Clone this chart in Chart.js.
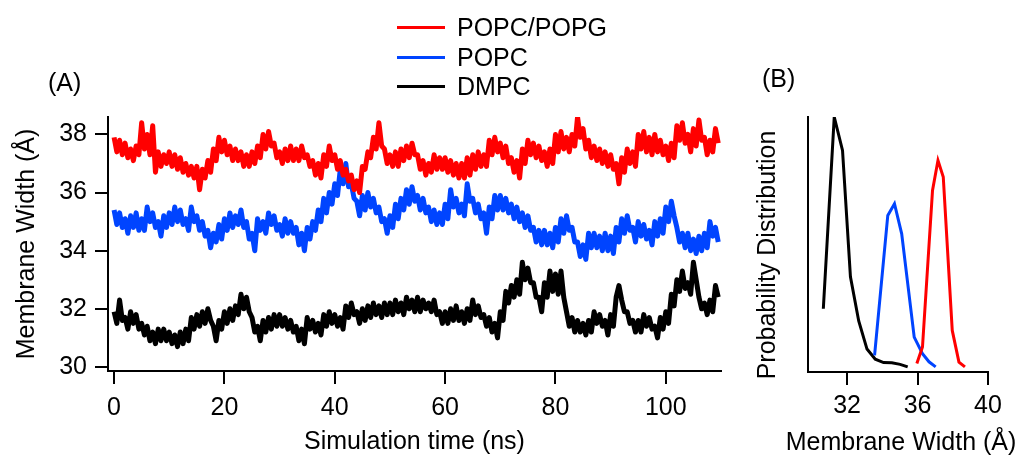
<!DOCTYPE html>
<html>
<head>
<meta charset="utf-8">
<script src="https://cdn.jsdelivr.net/npm/chart.js@4.4.1/dist/chart.umd.min.js"></script>
<style>
  html, body { margin:0; padding:0; background:#fff; }
  body { width:1024px; height:457px; position:relative; overflow:hidden; font-family:"Liberation Sans", Arial, sans-serif; }
  canvas { position:absolute; top:0; }
  .lbl { position:absolute; font-size:25px; color:#000; line-height:30px; white-space:nowrap; }
  .leg { position:absolute; left:397px; width:48px; height:0; border-top:3px solid; }
  .rot { position:absolute; font-size:25px; line-height:30px; white-space:nowrap; transform:translate(-50%,-50%) rotate(-90deg); }
  .ctr { position:absolute; font-size:25px; line-height:30px; white-space:nowrap; transform:translate(-50%,-50%); }
</style>
</head>
<body>
<canvas id="chartA" width="740" height="457" style="left:0"></canvas>
<canvas id="chartB" width="284" height="457" style="left:740px"></canvas>

<div class="lbl" style="left:48px;top:67px">(A)</div>
<div class="lbl" style="left:762px;top:63px">(B)</div>

<div class="leg" style="top:26px;border-color:#ff0000"></div>
<div class="lbl" style="left:457px;top:12px">POPC/POPG</div>
<div class="leg" style="top:56px;border-color:#0044ff"></div>
<div class="lbl" style="left:457px;top:42px">POPC</div>
<div class="leg" style="top:85px;border-color:#000000"></div>
<div class="lbl" style="left:457px;top:71px">DMPC</div>

<div class="rot" style="left:766px;top:255px">Probability Distribution</div>
<div class="ctr" style="left:901px;top:441px">Membrane Width (Å)</div>

<script>
// ---------- Panel A: membrane width vs time (0.5 ns sampling) ----------
const timeStepNs = 0.5;
const seriesNames = ["POPC/POPG", "POPC", "DMPC"];
const seriesColors = ["#ff0000", "#0044ff", "#000000"];

const widthPOPCPOPG = [
37.9,37.4,37.8,37.3,37.7,37.2,37.5,37.1,37.6,37.3,
38.4,37.5,38.0,37.3,38.3,36.7,37.4,36.9,37.3,37.0,
37.4,36.9,37.3,36.8,37.2,36.7,37.0,36.6,36.9,36.5,
36.9,36.1,36.8,36.5,37.1,36.7,37.5,37.1,37.9,37.4,
37.8,37.3,37.6,37.1,37.5,37.1,37.4,36.9,37.3,36.9,
37.4,37.0,37.6,37.2,38.0,37.5,38.1,37.6,37.7,37.2,
37.4,37.0,37.5,37.1,37.6,37.1,37.5,37.1,37.6,37.2,
37.3,36.9,37.1,36.6,37.0,36.5,37.3,36.9,37.6,37.1,
37.3,36.8,37.1,36.6,36.8,36.4,36.6,36.1,36.4,36.0,
36.9,36.8,37.4,37.2,37.9,37.5,38.4,37.6,37.5,37.0,
37.3,36.9,37.4,36.9,37.5,37.1,37.6,37.2,37.7,37.3,
37.3,36.8,37.1,36.6,37.0,36.7,37.3,36.8,37.2,36.8,
37.2,36.7,37.1,36.6,37.0,36.5,37.0,36.5,37.2,36.6,
37.3,36.8,37.4,36.9,37.3,36.9,37.8,37.3,37.9,37.4,
37.7,37.2,37.6,37.0,37.2,36.7,37.1,36.5,37.5,37.0,
37.8,37.3,37.7,37.2,37.6,37.1,37.4,36.9,37.5,37.0,
38.0,37.4,38.1,37.5,37.9,37.4,38.0,37.6,38.6,37.9,
38.2,37.5,37.8,37.2,37.6,37.1,37.5,37.0,37.4,36.9,
37.3,36.8,37.0,36.3,37.2,36.7,37.5,37.0,37.4,36.9,
38.0,37.5,38.1,37.4,37.9,37.3,38.0,37.4,37.8,37.3,
37.6,37.1,37.7,37.2,38.3,37.8,38.4,37.7,38.0,37.4,
38.2,37.6,38.5,37.8,37.9,37.3,37.8,37.4,38.2,37.7
];

const widthPOPC = [
35.4,34.9,35.3,34.8,35.1,34.6,35.2,34.8,35.3,34.7,
35.1,34.7,35.5,35.0,35.3,34.8,35.0,34.5,35.2,34.8,
35.3,34.9,35.5,35.0,35.4,34.9,35.1,34.7,35.5,35.0,
35.2,34.7,35.0,34.5,34.7,34.1,34.6,34.3,34.9,34.4,
35.1,34.7,35.3,34.8,35.2,34.9,35.4,34.8,35.0,34.4,
34.6,34.0,35.1,34.7,35.0,34.6,35.3,34.9,35.2,34.7,
34.9,34.5,35.1,34.6,35.0,34.6,34.8,34.2,34.6,34.0,
34.8,34.4,35.0,34.7,35.4,35.0,35.8,35.3,36.0,35.6,
36.3,35.9,36.8,36.3,37.0,36.2,36.3,35.8,35.7,35.2,
35.9,35.4,36.0,35.5,35.8,35.3,35.5,35.0,35.1,34.6,
35.2,34.8,35.6,35.1,35.8,35.4,36.1,35.6,36.2,35.7,
35.9,35.4,35.8,35.3,35.5,35.0,35.4,34.9,35.3,34.9,
35.6,35.1,36.1,35.5,35.8,35.3,35.6,35.2,36.3,35.7,
35.8,35.3,35.6,35.1,35.3,34.6,35.5,35.1,35.9,35.4,
35.9,35.4,35.8,35.3,35.6,35.1,35.5,35.0,35.3,34.8,
35.2,34.7,34.8,34.3,34.7,34.2,34.7,34.2,34.6,34.1,
34.8,34.3,35.1,34.6,35.2,34.7,34.8,34.3,34.3,33.8,
34.2,33.7,34.6,34.1,34.6,34.1,34.5,34.0,34.6,34.0,
34.5,33.9,34.8,34.3,35.1,34.6,35.2,34.7,34.8,34.3,
35.0,34.5,34.9,34.4,34.7,34.2,35.0,34.5,35.1,34.6,
35.5,35.0,35.7,35.2,34.8,34.3,34.6,34.1,34.6,34.0,
34.4,33.9,34.5,34.0,34.6,34.1,35.0,34.5,34.8,34.3
];

const widthDMPC = [
31.9,31.5,32.3,31.6,31.7,31.3,31.9,31.5,31.8,31.3,
31.5,31.1,31.4,30.9,31.2,30.8,31.3,30.9,31.3,30.9,
31.2,30.8,31.1,30.7,31.2,30.8,31.3,30.9,31.7,31.3,
31.8,31.4,31.9,31.5,32.0,31.6,31.4,30.9,31.6,31.3,
31.9,31.5,32.0,31.6,32.1,31.8,32.5,32.0,32.4,31.9,
31.7,31.2,31.4,30.9,31.6,31.2,31.7,31.3,31.8,31.4,
31.8,31.4,31.7,31.3,31.6,31.2,31.4,30.9,31.3,30.8,
31.7,31.3,31.6,31.2,31.5,31.1,31.8,31.4,31.9,31.5,
31.8,31.4,31.7,31.3,32.1,31.7,32.2,31.8,31.9,31.5,
32.0,31.6,32.1,31.7,32.2,31.8,32.1,31.7,32.2,31.8,
32.2,31.8,32.3,31.9,32.2,31.8,32.4,32.0,32.3,31.9,
32.4,31.9,32.3,32.0,32.2,31.9,32.3,31.8,31.9,31.5,
31.9,31.5,32.0,31.6,32.1,31.6,31.9,31.5,32.0,31.6,
32.3,31.8,32.1,31.7,31.8,31.4,31.7,31.2,31.5,31.0,
31.9,31.6,32.6,32.2,32.8,32.4,33.0,32.5,33.6,33.0,
33.4,32.9,32.9,32.4,32.4,31.9,32.9,32.4,33.3,32.6,
33.2,32.5,33.3,32.4,31.9,31.4,31.7,31.2,31.6,31.2,
31.5,31.1,31.6,31.2,31.9,31.5,31.8,31.4,31.6,31.1,
31.8,31.4,32.4,32.8,32.3,31.9,31.9,31.5,31.6,31.2,
31.6,31.2,31.8,31.4,31.7,31.3,31.4,31.0,31.7,31.3,
31.9,31.5,32.5,32.1,33.0,32.6,33.3,32.7,32.9,32.5,
33.6,33.0,32.4,32.0,32.2,31.8,32.3,31.9,32.8,32.4
];

const timeTicks = [0, 20, 40, 60, 80, 100];
const widthTicks = [30, 32, 34, 36, 38];

// ---------- Panel B: probability distributions ----------
const distWidthPOPCPOPG = [35.96, 36.28, 36.85, 37.16, 37.46, 37.97, 38.35, 38.69];
const distProbPOPCPOPG  = [0.033, 0.098, 0.712, 0.83, 0.765, 0.163, 0.039, 0.02];
const distWidthPOPC = [33.56, 34.31, 34.69, 35.10, 35.81, 36.28, 36.65, 37.03];
const distProbPOPC  = [0.065, 0.614, 0.66, 0.542, 0.137, 0.072, 0.04, 0.02];
const distWidthDMPC = [30.65, 31.27, 31.74, 32.19, 32.66, 33.13, 33.6, 34.07, 34.54, 35.01, 35.44];
const distProbDMPC  = [0.248, 1.0, 0.869, 0.373, 0.2, 0.09, 0.05, 0.037, 0.036, 0.03, 0.02];
const distTicks = [32, 36, 40];

// ---------- common ----------
const FONT = { family: '"Liberation Sans", Arial, sans-serif', size: 25 };
Chart.defaults.font.family = FONT.family;
Chart.defaults.color = '#000';

function toXY(xs, ys) { return ys.map((v, i) => ({ x: xs[i], y: v })); }
const timesNs = widthDMPC.map((_, i) => i * timeStepNs);

const seriesA = [widthPOPCPOPG, widthPOPC, widthDMPC];
new Chart(document.getElementById('chartA'), {
  type: 'line',
  data: {
    datasets: seriesA.map((vals, k) => ({
      label: seriesNames[k],
      data: toXY(timesNs, vals),
      borderColor: seriesColors[k],
      borderWidth: 5,
      borderJoinStyle: 'round',
      pointRadius: 0,
      tension: 0,
      fill: false
    }))
  },
  options: {
    responsive: false,
    animation: false,
    layout: { padding: { top: 117, right: 19, left: 0, bottom: 0 } },
    plugins: { legend: { display: false }, tooltip: { enabled: false } },
    scales: {
      x: {
        type: 'linear', min: -1.1, max: 110,
        afterBuildTicks: s => { s.ticks = timeTicks.map(v => ({ value: v })); },
        afterFit: s => { s.height = 86; },
        grid: { drawOnChartArea: false, drawTicks: true, tickLength: 13, color: '#000', lineWidth: 2 },
        border: { display: true, color: '#000', width: 2 },
        ticks: { font: FONT, padding: 9, maxRotation: 0, autoSkip: false, color: '#000' },
        title: { display: true, text: 'Simulation time (ns)', font: FONT, color: '#000', padding: { top: 0, bottom: 0 } }
      },
      y: {
        type: 'linear', min: 29.86, max: 38.6,
        afterBuildTicks: s => { s.ticks = widthTicks.map(v => ({ value: v })); },
        afterFit: s => { s.width = 108; },
        grid: { drawOnChartArea: false, drawTicks: true, tickLength: 13, color: '#000', lineWidth: 2 },
        border: { display: true, color: '#000', width: 2 },
        ticks: { font: FONT, padding: 8, color: '#000' },
        title: { display: true, text: 'Membrane Width (Å)', font: FONT, color: '#000', padding: { top: 12, bottom: 0 } }
      }
    }
  }
});

const distSets = [
  [distWidthPOPCPOPG, distProbPOPCPOPG],
  [distWidthPOPC, distProbPOPC],
  [distWidthDMPC, distProbDMPC]
];
new Chart(document.getElementById('chartB'), {
  type: 'line',
  data: {
    datasets: distSets.map((d, k) => ({
      label: seriesNames[k],
      data: toXY(d[0], d[1]),
      borderColor: seriesColors[k],
      borderWidth: 3,
      pointRadius: 0,
      tension: 0,
      fill: false
    }))
  },
  options: {
    responsive: false,
    animation: false,
    layout: { padding: { top: 117, right: 36, left: 0, bottom: 0 } },
    plugins: { legend: { display: false }, tooltip: { enabled: false } },
    scales: {
      x: {
        type: 'linear', min: 29.78, max: 40,
        afterBuildTicks: s => { s.ticks = distTicks.map(v => ({ value: v })); },
        afterFit: s => { s.height = 85; },
        grid: { drawOnChartArea: false, drawTicks: true, tickLength: 13, color: '#000', lineWidth: 2 },
        border: { display: true, color: '#000', width: 2 },
        ticks: { font: FONT, padding: 6, maxRotation: 0, autoSkip: false, color: '#000' },
        title: { display: false }
      },
      y: {
        type: 'linear', min: 0, max: 1.0,
        afterFit: s => { s.width = 68; },
        grid: { display: false },
        border: { display: true, color: '#000', width: 2 },
        ticks: { display: false },
        title: { display: false }
      }
    }
  }
});
</script>
</body>
</html>
